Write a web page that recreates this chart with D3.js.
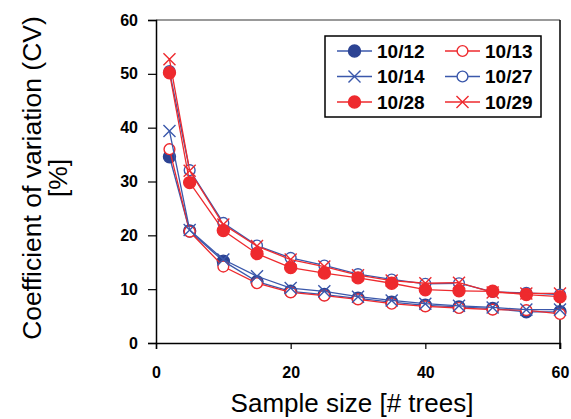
<!DOCTYPE html>
<html>
<head>
<meta charset="utf-8">
<script src="https://cdn.jsdelivr.net/npm/d3@7"></script>
<style>
  body { margin: 0; background: #fff; }
  text { font-family: "Liberation Sans", Arial, sans-serif; }
</style>
</head>
<body>
<svg class="chart"></svg>
<script>
// data
const sampleSizes = [2, 5, 10, 15, 20, 25, 30, 35, 40, 45, 50, 55, 60];

const cv1012 = [34.6, 20.8, 15.2, 11.4, 9.6, 9.0, 8.3, 7.6, 7.0, 6.7, 6.4, 5.8, 5.8];
const cv1013 = [36.0, 20.7, 14.2, 11.1, 9.4, 8.8, 8.1, 7.3, 6.8, 6.5, 6.2, 6.1, 5.4];
const cv1014 = [39.4, 21.0, 15.5, 12.4, 10.2, 9.6, 8.6, 7.9, 7.3, 6.9, 6.6, 6.2, 6.2];
const cv1027 = [50.5, 32.1, 22.3, 18.1, 15.8, 14.4, 12.8, 11.8, 11.0, 11.1, 9.5, 9.3, 9.0];
const cv1028 = [50.2, 29.8, 20.9, 16.6, 14.0, 13.0, 12.1, 11.1, 9.9, 9.7, 9.6, 9.0, 8.6];
const cv1029 = [52.7, 32.0, 22.0, 18.0, 15.5, 14.2, 12.6, 11.6, 11.1, 11.2, 9.4, 9.2, 9.2];

const seriesNames = ['10/12', '10/13', '10/14', '10/27', '10/28', '10/29'];
const xTicks = [0, 20, 40, 60];
const yTicks = [0, 10, 20, 30, 40, 50, 60];

const blue = '#3b58ab', blueDark = '#2c4393', red = '#ee2a2e';

// marker style per series
const series = [
  { name: seriesNames[0], values: cv1012, line: blue, marker: 'filled', color: blueDark },
  { name: seriesNames[1], values: cv1013, line: red,  marker: 'open',   color: red },
  { name: seriesNames[2], values: cv1014, line: blue, marker: 'x',      color: blue },
  { name: seriesNames[3], values: cv1027, line: blue, marker: 'open',   color: blue },
  { name: seriesNames[4], values: cv1028, line: red,  marker: 'filled', color: red },
  { name: seriesNames[5], values: cv1029, line: red,  marker: 'x',      color: red }
];

const W = 571, H = 419;
const margin = { top: 20, right: 11, bottom: 76, left: 156 };

const svg = d3.select(".chart")
    .attr("width", W)
    .attr("height", H);

const x = d3.scaleLinear().domain([0, 60]).range([margin.left, W - margin.right]);
const y = d3.scaleLinear().domain([0, 60]).range([H - margin.bottom, margin.top]);

// frame: gray top, black right
svg.append("line")
    .attr("x1", x(0)).attr("x2", x(60))
    .attr("y1", y(60)).attr("y2", y(60))
    .attr("stroke", "#777").attr("stroke-width", 1.5);
svg.append("line")
    .attr("x1", x(60)).attr("x2", x(60))
    .attr("y1", y(60)).attr("y2", y(0) + 6)
    .attr("stroke", "#000").attr("stroke-width", 1.5);

// axes
const xAxis = svg.append("g")
    .attr("transform", `translate(0,${y(0)})`)
    .call(d3.axisBottom(x).tickValues(xTicks).tickSize(6).tickPadding(18));
const yAxis = svg.append("g")
    .attr("transform", `translate(${x(0)},0)`)
    .call(d3.axisLeft(y).tickValues(yTicks).tickSize(8).tickPadding(10));

[xAxis, yAxis].forEach(function(g) {
  g.select(".domain").attr("stroke", "#000").attr("stroke-width", 1.5);
  g.selectAll(".tick line").attr("stroke", "#000").attr("stroke-width", 1.2);
  g.selectAll(".tick text")
      .attr("fill", "#000")
      .style("font-family", "'Liberation Sans', Arial, sans-serif")
      .style("font-size", "16px")
      .style("font-weight", "bold");
});

// axis titles
svg.append("text")
    .text("Sample size [# trees]")
    .attr("x", 352).attr("y", 412)
    .attr("text-anchor", "middle")
    .style("font-size", "26px");

const yTitle = svg.append("text")
    .attr("transform", "translate(41,178) rotate(-90)")
    .attr("text-anchor", "middle")
    .style("font-size", "26.5px");
yTitle.append("tspan").attr("x", 0).attr("dy", 0).text("Coefficient of variation (CV)");
yTitle.append("tspan").attr("x", 0).attr("dy", 26).text("[%]");

// markers
const xSymbol = d3.symbol().type(d3.symbolX).size(96);

function drawMarker(g, s, cx, cy) {
  if (s.marker === 'x') {
    g.append("path")
        .attr("d", xSymbol())
        .attr("transform", `translate(${cx},${cy})`)
        .attr("fill", "none")
        .attr("stroke", s.color)
        .attr("stroke-width", 1.4);
  } else {
    g.append("circle")
        .attr("cx", cx).attr("cy", cy)
        .attr("r", s.marker === 'filled' ? 6 : 5.4)
        .attr("fill", s.marker === 'filled' ? s.color : "#fff")
        .attr("stroke", s.color)
        .attr("stroke-width", 1.4);
  }
}

// lines + points
const line = d3.line()
    .x(function(d, i) { return x(sampleSizes[i]); })
    .y(function(d) { return y(d); });

series.forEach(function(s) {
  const g = svg.append("g");
  g.append("path")
      .datum(s.values)
      .attr("fill", "none")
      .attr("stroke", s.line)
      .attr("stroke-width", 1.3)
      .attr("d", line);
  s.values.forEach(function(v, i) {
    drawMarker(g, s, x(sampleSizes[i]), y(v));
  });
});

// legend
const legend = svg.append("g").attr("transform", "translate(325,36)");
legend.append("rect")
    .attr("width", 216).attr("height", 81)
    .attr("fill", "#fff")
    .attr("stroke", "#000")
    .attr("stroke-width", 1.5);

series.forEach(function(s, i) {
  const col = i % 2, row = Math.floor(i / 2);
  const lx = 12 + col * 108, ly = 15 + row * 25.5;
  const g = legend.append("g");
  g.append("line")
      .attr("x1", lx).attr("x2", lx + 35)
      .attr("y1", ly).attr("y2", ly)
      .attr("stroke", s.line).attr("stroke-width", 1.3);
  drawMarker(g, s, lx + 17.5, ly);
  g.append("text")
      .text(s.name)
      .attr("x", lx + 40).attr("y", ly + 6.5)
      .style("font-size", "19px")
      .style("font-weight", "bold");
});
</script>
</body>
</html>
